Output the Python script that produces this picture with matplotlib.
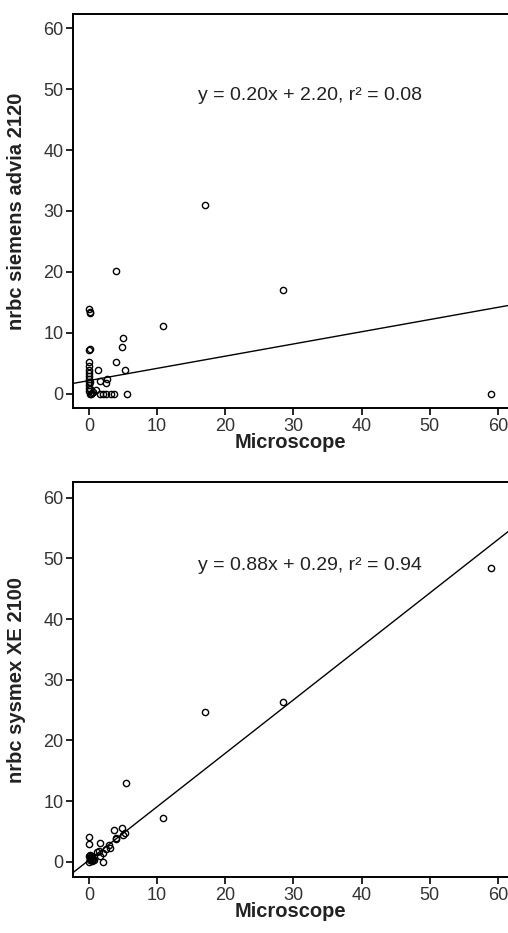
import numpy as np
import matplotlib
matplotlib.use("Agg")
import matplotlib.pyplot as plt

plt.rcParams['font.family'] = ['Liberation Sans', 'DejaVu Sans']

# microscope vs siemens advia 2120
micro_top = [17, 28.5, 59, 4.0, 10.8, 0, 0.2, 0.1, 4.95, 4.8, 0, 0.15, 3.97, 5.3,
             1.3, 1.6, 2.7, 2.5, 1.6, 2.1, 2.5, 3.3, 3.6, 5.6, 1.0,
             0, 0, 0, 0, 0, 0, 0, 0, 0, 0, 0.2, 0.3, 0.4, 0.1, 0.6, 0.2]
advia = [31, 17, 0, 20.2, 11.2, 13.9, 13.4, 13.3, 9.2, 7.7, 7.2, 7.3, 5.2, 3.9,
         4.0, 2.2, 2.4, 1.8, 0, 0, 0, 0, 0, 0, 0.7,
         5.3, 4.6, 4.0, 3.5, 3.0, 2.5, 2.0, 1.5, 1.0, 0.5, 0, 0, 0.2, 0.8, 0.4, 1.9]

# microscope vs sysmex XE 2100
micro_bot = [59, 28.5, 17, 5.5, 10.8, 0, 0, 3.6, 4.8, 5.3, 4.95, 3.9, 4.0, 3.0,
             1.6, 3.1, 2.5, 2.1, 1.6, 1.5, 2.0, 1.2,
             0, 0.1, 0.2, 0.3, 0.4, 0.5, 0, 0.2, 0.4, 0.6, 0.8, 0.1]
sysmex = [48.5, 26.3, 24.7, 13.0, 7.3, 4.1, 2.9, 5.2, 5.5, 4.8, 4.4, 4.0, 3.7, 2.8,
          3.1, 2.3, 2.1, 0, 1.0, 1.8, 1.5, 1.6,
          0, 0.3, 0.6, 0.9, 0.4, 0.2, 1.0, 1.1, 0.8, 0.5, 0.3, 0.7]

fits = [(0.20, 2.20, 0.08), (0.88, 0.29, 0.94)]
ylabels = ['nrbc siemens advia 2120', 'nrbc sysmex XE 2100']
ticks = [0, 10, 20, 30, 40, 50, 60]

fig = plt.figure(figsize=(5.08, 9.33), dpi=100)
ax1 = fig.add_axes([0.1437, 0.5627, 0.8563, 0.4223])
ax2 = fig.add_axes([0.1437, 0.060, 0.8563, 0.4234])

panels = [(ax1, micro_top, advia, (-2.3, 62.3)), (ax2, micro_bot, sysmex, (-2.5, 62.6))]

for i, (ax, x, y, yl) in enumerate(panels):
    ax.set_xlim(-2.35, 61.5)
    ax.set_ylim(*yl)
    ax.plot(x, y, 'o', mfc='none', mec='black', ms=4.5, mew=1.0)
    slope, icpt, r2 = fits[i]
    xx = np.array([-2.35, 61.5])
    ax.plot(xx, slope * xx + icpt, color='black', lw=1.0)
    ax.text(32.4, 48.9, 'y = %.2fx + %.2f, r\u00b2 = %.2f' % (slope, icpt, r2),
            ha='center', va='center', fontsize=14, color='#222222')
    ax.set_xticks(ticks)
    ax.set_yticks(ticks)
    ax.tick_params(direction='out', length=5, width=1.2, labelsize=13,
                   labelcolor='#333333', pad=2)
    ax.spines['right'].set_visible(False)
    for s in ['left', 'bottom', 'top']:
        ax.spines[s].set_linewidth(1.4)
    ax.set_xlabel('Microscope', fontsize=14.5, fontweight='bold', labelpad=-1,
                  color='#222222')
    ax.set_ylabel(ylabels[i], fontsize=14.5, fontweight='bold', labelpad=12,
                  color='#222222')

fig.savefig('out.png', dpi=100)
